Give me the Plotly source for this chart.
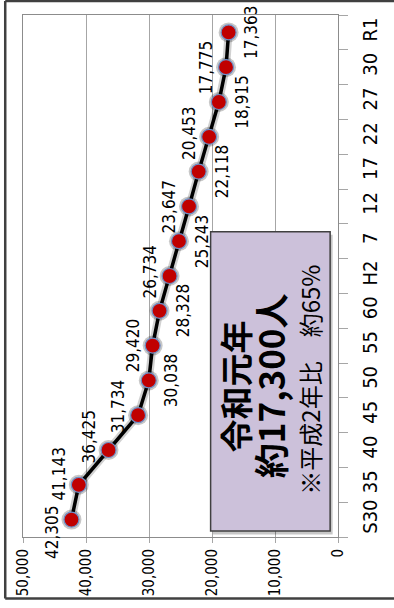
import plotly.graph_objects as go

# 年次（昭和30年〜令和元年）
categories = ["S30", "35", "40", "45", "50", "55", "60", "H2", "7", "12", "17", "22", "27", "30", "R1"]
# 人数
values = [42305, 41143, 36425, 31734, 30038, 29420, 28328, 26734, 25243, 23647, 22118, 20453, 18915, 17775, 17363]
# 数値軸の目盛
value_ticks = [0, 10000, 20000, 30000, 40000, 50000]
value_tick_text = ["0", "10,000", "20,000", "30,000", "40,000", "50,000"]
# ラベルを値の大きい側に置く年次
high_side = {"S30", "35", "40", "45", "55", "H2", "12", "22", "30"}
# 線と重ならないよう個別に上下へずらすラベル（px）
label_nudge = {"S30": -12, "35": 11, "40": 13, "45": 9, "H2": 4, "22": 4}

# 注記ボックスの文言
note_lines = ["令和元年", "約17,300人", "※平成2年比　約65%"]

NUM_FONT = "Liberation Sans Narrow, Arial Narrow, DejaVu Sans Condensed, Arial, sans-serif"
CJK_FONT = "Noto Sans CJK JP, Noto Sans CJK SC, sans-serif"

fig = go.Figure()

# 線と点の影
fig.add_trace(go.Scatter(
    x=values, y=categories, mode="lines+markers",
    line=dict(color="rgba(0,0,0,0.18)", width=8),
    marker=dict(size=20, color="rgba(0,0,0,0.22)", line=dict(width=0)),
    hoverinfo="skip", showlegend=False,
))
# 折れ線本体
fig.add_trace(go.Scatter(
    x=values, y=categories, mode="lines+markers",
    line=dict(color="#000000", width=3.5),
    marker=dict(size=15, color="#c00000", line=dict(color="#6f8fc7", width=1.2)),
    showlegend=False,
))

# データラベル（縦書き回転）; カテゴリ軸上の位置は番号で指定
for idx, (cat, v) in enumerate(zip(categories, values)):
    shift = -20 if cat in high_side else 23
    fig.add_annotation(
        x=v, y=idx, xref="x", yref="y",
        xanchor="center", yanchor="middle",
        text=f"{v:,}", textangle=-90, showarrow=False,
        xshift=shift, yshift=label_nudge.get(cat, 0),
        font=dict(family=NUM_FONT, size=17, color="#000000"),
    )

# 注記ボックス（影＋本体）
fig.add_shape(type="rect", xref="paper", yref="paper",
              x0=0.603, x1=0.983, y0=0.005, y1=0.579,
              fillcolor="rgba(0,0,0,0.22)", line=dict(width=0), layer="above")
fig.add_shape(type="rect", xref="paper", yref="paper",
              x0=0.5956, x1=0.975, y0=0.0115, y1=0.585,
              fillcolor="#ccc1da", line=dict(color="#404040", width=1.5), layer="above")

note_pos = [(0.674, 0.289, 33, True), (0.781, 0.289, 35, True), (0.909, 0.302, 24, False)]
for txt, (px, py, size, bold) in zip(note_lines, note_pos):
    fig.add_annotation(
        x=px, y=py, xref="paper", yref="paper",
        xanchor="center", yanchor="middle",
        text=f"<b>{txt}</b>" if bold else txt, textangle=-90, showarrow=False,
        font=dict(family=CJK_FONT, size=size, color="#000000"),
    )

# 外枠
frame = dict(color="#404040", width=2.5)
fig.add_shape(type="line", xref="paper", yref="paper", x0=-0.0564, x1=1.2, y0=1.0268, y1=1.0268, line=frame)
fig.add_shape(type="line", xref="paper", yref="paper", x0=-0.0564, x1=-0.0564, y0=1.0268, y1=-0.118, line=frame)
fig.add_shape(type="line", xref="paper", yref="paper", x0=-0.0564, x1=1.2, y0=-0.118, y1=-0.118, line=frame)

fig.update_layout(
    width=394, height=608,
    margin=dict(l=23, r=52, t=15, b=70),
    paper_bgcolor="#ffffff", plot_bgcolor="#ffffff",
    showlegend=False,
    xaxis=dict(
        range=[50000, 0], tickvals=value_ticks, ticktext=value_tick_text,
        tickangle=-90, showgrid=True, gridcolor="#a6a6a6", gridwidth=1,
        showline=True, linecolor="#8c8c8c", linewidth=1, mirror=True,
        ticks="outside", ticklen=5, tickcolor="#a6a6a6",
        zeroline=False, fixedrange=True,
        tickfont=dict(family=NUM_FONT, size=15, color="#000000"),
    ),
    yaxis=dict(
        type="category", categoryorder="array", categoryarray=categories,
        range=[-0.5, len(categories) - 0.5], side="right",
        tickangle=-90, showgrid=False,
        showline=True, linecolor="#8c8c8c", linewidth=1, mirror=True,
        ticks="outside", ticklen=9, tickcolor="#a6a6a6", tickson="boundaries",
        ticklabelstandoff=14, fixedrange=True,
        tickfont=dict(family=NUM_FONT, size=20, color="#000000"),
    ),
)

fig.write_html("out.html")
